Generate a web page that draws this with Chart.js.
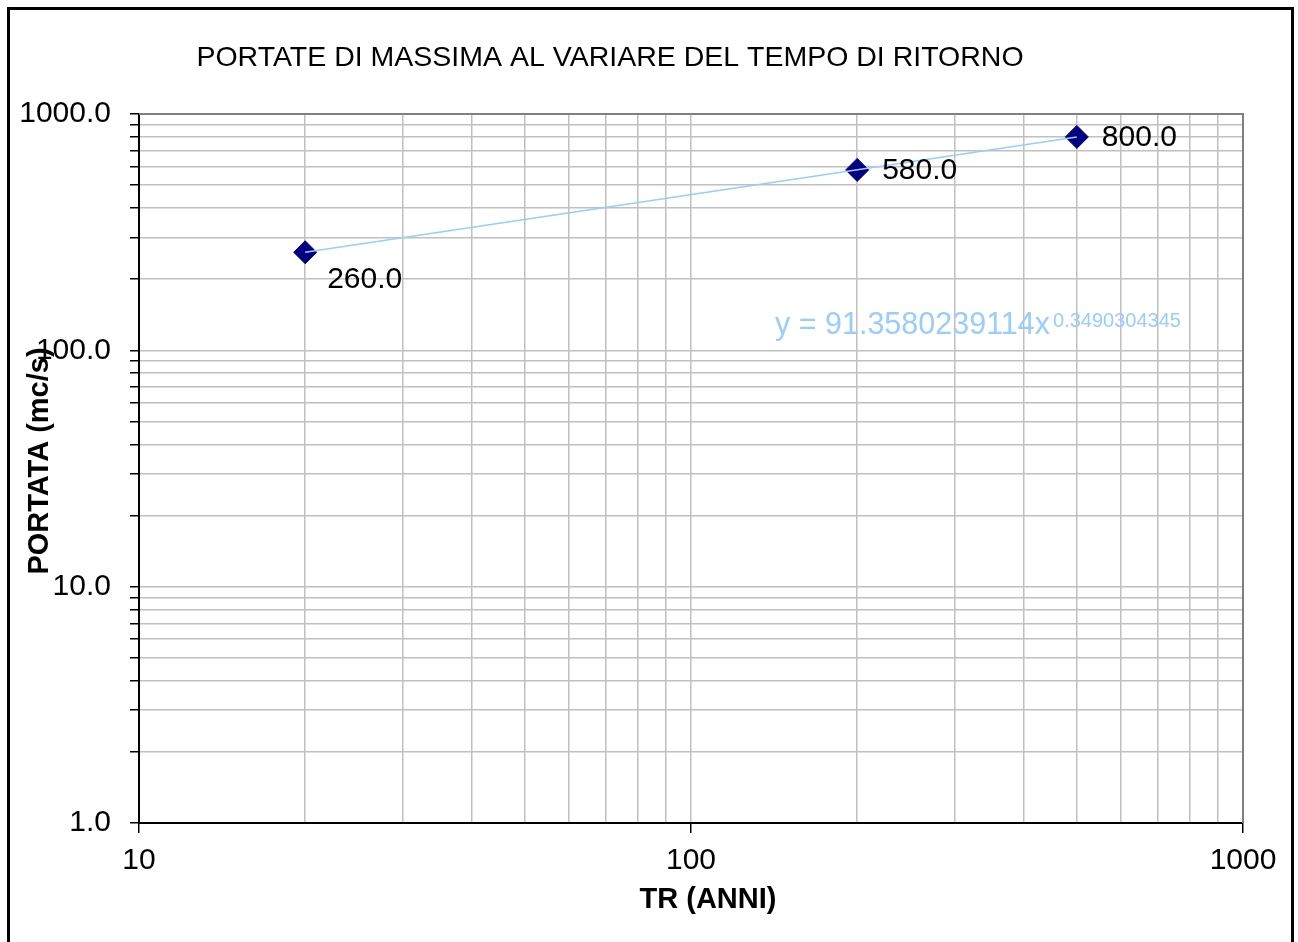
<!DOCTYPE html>
<html>
<head>
<meta charset="utf-8">
<script src="https://cdn.jsdelivr.net/npm/chart.js@4"></script>
<style>
  body { margin: 0; background: #fff; }
  canvas { display: block; }
</style>
</head>
<body>
<canvas id="portateChart" width="1298" height="942"></canvas>
<script>
// valori
const tempiRitorno = [20, 200, 500];
const portate = [260, 580, 800];
const etichettePunti = ['260.0', '580.0', '800.0'];

// linea di tendenza (potenza) tra il primo e l'ultimo punto
const trendX = [20, 500];
const trendY = [259.9, 799.3];
const trendLabel = 'y = 91.3580239114x';
const trendExp = '0.3490304345';

const xMajor = [10, 100, 1000];
const xTickLabels = ['10', '100', '1000'];
const yMajor = [1, 10, 100, 1000];
const yTickLabels = ['1.0', '10.0', '100.0', '1000.0'];

const FONT = "'Liberation Sans', Arial, sans-serif";

// griglia logaritmica: 1..9 per ogni decade
function logGrid(majors) {
    const vals = [];
    for (let i = 0; i < majors.length - 1; i++) {
        for (let k = 1; k < 10; k++) vals.push(majors[i] * k);
    }
    vals.push(majors[majors.length - 1]);
    return vals;
}

const textPlugin = {
    id: 'testi',
    beforeDraw(chart) {
        const ctx = chart.ctx;
        ctx.save();
        ctx.fillStyle = '#fff';
        ctx.fillRect(0, 0, chart.width, chart.height);
        ctx.strokeStyle = '#000';
        ctx.lineWidth = 3;
        ctx.strokeRect(8.5, 8.5, 1284, 1000);
        ctx.restore();
    },
    beforeDatasetsDraw(chart) {
        const ctx = chart.ctx;
        const a = chart.chartArea;
        ctx.save();
        ctx.strokeStyle = '#808080';
        ctx.lineWidth = 2;
        ctx.beginPath();
        ctx.moveTo(a.left, a.top);
        ctx.lineTo(a.right, a.top);
        ctx.lineTo(a.right, a.bottom);
        ctx.stroke();
        ctx.restore();
    },
    afterDraw(chart) {
        const ctx = chart.ctx;
        ctx.save();
        ctx.fillStyle = '#000';
        ctx.textBaseline = 'middle';

        ctx.font = '28.5px ' + FONT;
        ctx.textAlign = 'center';
        ctx.fillText('PORTATE DI MASSIMA AL VARIARE DEL TEMPO DI RITORNO', 610, 58);

        ctx.font = 'bold 29px ' + FONT;
        ctx.fillText('TR (ANNI)', 708, 900);

        ctx.save();
        ctx.translate(40, 461);
        ctx.rotate(-Math.PI / 2);
        ctx.fillText('PORTATA (mc/s)', 0, 0);
        ctx.restore();

        // etichette dei punti
        const meta = chart.getDatasetMeta(1);
        ctx.font = '30px ' + FONT;
        ctx.textAlign = 'left';
        meta.data.forEach((pt, i) => {
            let dx = 25, dy = 1;
            if (i === 0) { dx = 22; dy = 27; }
            ctx.fillText(etichettePunti[i], pt.x + dx, pt.y + dy);
        });

        // equazione della tendenza
        ctx.fillStyle = '#99ccff';
        ctx.textBaseline = 'alphabetic';
        ctx.font = '30.5px ' + FONT;
        ctx.fillText(trendLabel, 775, 334);
        const w = ctx.measureText(trendLabel).width;
        ctx.font = '20px ' + FONT;
        ctx.fillText(trendExp, 775 + w + 3, 327);
        ctx.restore();
    }
};

const ctx = document.getElementById('portateChart').getContext('2d');
const portateChart = new Chart(ctx, {
    type: 'scatter',
    data: {
        datasets: [{
            type: 'line',
            label: 'tendenza',
            data: trendX.map((x, i) => ({ x: x, y: trendY[i] })),
            borderColor: '#99ccff',
            borderWidth: 1.5,
            pointRadius: 0,
            fill: false
        },
        {
            label: 'portate',
            data: tempiRitorno.map((x, i) => ({ x: x, y: portate[i] })),
            backgroundColor: '#000080',
            borderColor: '#000080',
            borderWidth: 1,
            pointStyle: 'rectRot',
            pointRadius: 11.5,
            showLine: false
        }]
    },
    options: {
        responsive: false,
        animation: false,
        devicePixelRatio: 1,
        layout: { padding: { left: 0, top: 114, right: 55, bottom: 0 } },
        plugins: {
            legend: { display: false },
            title: { display: false },
            tooltip: { enabled: false }
        },
        scales: {
            x: {
                type: 'logarithmic',
                min: 10,
                max: 1000,
                afterBuildTicks: s => { s.ticks = logGrid(xMajor).map(v => ({ value: v })); },
                afterFit: s => { s.height = 119; },
                grid: {
                    color: '#c0c0c0',
                    lineWidth: 1.5,
                    tickLength: 10,
                    tickColor: c => (c.tick && xMajor.includes(c.tick.value)) ? '#000' : 'rgba(0,0,0,0)'
                },
                border: { color: '#000', width: 2 },
                ticks: {
                    autoSkip: false,
                    maxRotation: 0,
                    minRotation: 0,
                    padding: 10,
                    color: '#000',
                    font: { family: FONT, size: 30 },
                    callback: v => {
                        const i = xMajor.indexOf(v);
                        return i >= 0 ? xTickLabels[i] : '';
                    }
                }
            },
            y: {
                type: 'logarithmic',
                min: 1,
                max: 1000,
                afterBuildTicks: s => { s.ticks = logGrid(yMajor).map(v => ({ value: v })); },
                afterFit: s => { s.width = 139; },
                grid: {
                    color: '#c0c0c0',
                    lineWidth: 1.5,
                    tickLength: 9,
                    tickColor: '#000'
                },
                border: { color: '#000', width: 2 },
                ticks: {
                    autoSkip: false,
                    padding: 19,
                    color: '#000',
                    font: { family: FONT, size: 30 },
                    callback: v => {
                        const i = yMajor.indexOf(v);
                        return i >= 0 ? yTickLabels[i] : '';
                    }
                }
            }
        }
    },
    plugins: [textPlugin]
});
</script>
</body>
</html>
